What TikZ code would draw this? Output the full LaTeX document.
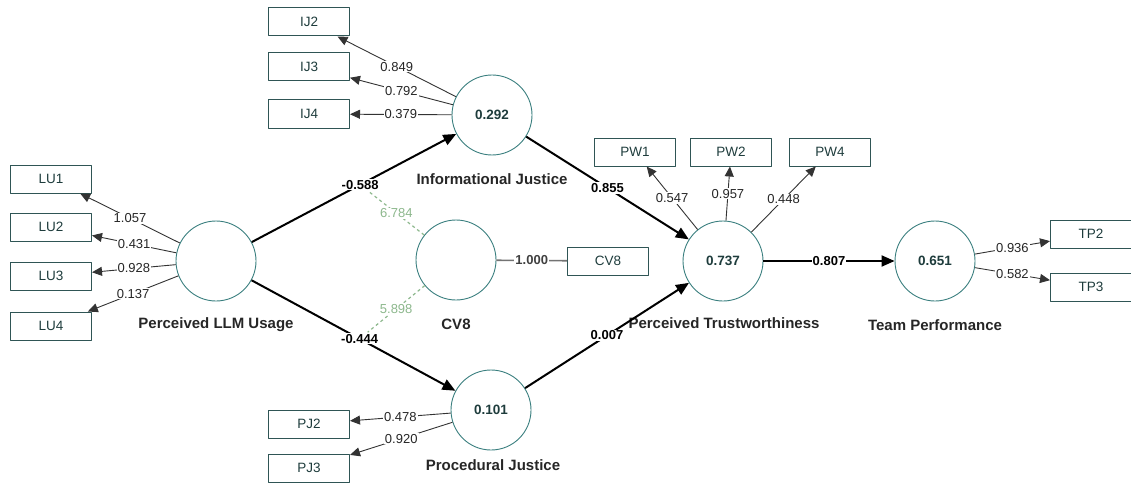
\documentclass[tikz,border=0pt]{standalone}
\usepackage{fontspec}
\setmainfont{Liberation Sans}
\usetikzlibrary{arrows.meta}
\definecolor{circc}{HTML}{3A7F7F}
\definecolor{boxc}{HTML}{2F5555}
\definecolor{txtc}{HTML}{1E3C3C}
\definecolor{modc}{HTML}{8DB88D}
\begin{document}
\begin{tikzpicture}[x=1pt,y=-1pt, line join=round,
	latent/.style={circle,draw=circc,line width=0.9pt,minimum size=80pt,inner sep=0pt,text=txtc,font=\fontsize{13.5}{15}\selectfont\bfseries},
	indic/.style={rectangle,draw=boxc,line width=1pt,minimum width=81pt,minimum height=28pt,inner sep=0pt,text=txtc,font=\fontsize{13.5}{15}\selectfont},
	lvname/.style={font=\fontsize{15}{17}\selectfont\bfseries,text=black!85},
	structarrow/.style={line width=2pt,-{Triangle[length=13pt,width=11pt]}},
	loadarrow/.style={line width=0.9pt,draw=black!80,-{Triangle[length=10pt,width=9pt]}},
	coef/.style={fill=white,inner sep=1pt,font=\fontsize{13}{15}\selectfont\bfseries},
	wt/.style={fill=white,inner sep=1pt,text=black!85,font=\fontsize{13}{15}\selectfont}]
	\useasboundingbox (0,0) rectangle (1131,484);
	% latent variables
	\node[latent] (llm) at (216,261) {};
	\node[latent] (ij) at (492,115) {0.292};
	\node[latent] (cv) at (456,260) {};
	\node[latent] (pt) at (723,261) {0.737};
	\node[latent] (tp) at (935,261) {0.651};
	\node[latent] (pj) at (491,410) {0.101};
	\node[lvname] (llmname) at (216,325) {Perceived LLM Usage};
	\node[lvname] (ijname) at (492,179) {Informational Justice};
	\node[lvname] (cvname) at (456,324) {CV8};
	\node[lvname] (ptname) at (724,323) {Perceived Trustworthiness};
	\node[lvname] (tpname) at (935,325) {Team Performance};
	\node[lvname] (pjname) at (493,465) {Procedural Justice};
	% indicators
	\foreach \n/\y/\w in {1/179/1.057, 2/227/0.431, 3/276/0.928, 4/326/0.137}{
		\node[indic] (lu\n) at (51,\y) {LU\n};
		\draw[loadarrow] (llm) -- (lu\n) node[wt,midway]{\w};
	}
	\foreach \n/\y/\w in {2/22/0.849, 3/67/0.792, 4/114/0.379}{
		\node[indic] (ij\n) at (309,\y) {IJ\n};
		\draw[loadarrow] (ij) -- (ij\n) node[wt,midway]{\w};
	}
	\foreach \n/\y/\w in {2/424/0.478, 3/468/0.920}{
		\node[indic] (pj\n) at (309,\y) {PJ\n};
		\draw[loadarrow] (pj) -- (pj\n) node[wt,midway]{\w};
	}
	\foreach \n/\x/\w in {1/635/0.547, 2/731/0.957, 4/830/0.448}{
		\node[indic] (pw\n) at (\x,152) {PW\n};
		\draw[loadarrow] (pt) -- (pw\n) node[wt,midway]{\w};
	}
	\foreach \n/\y/\w in {2/234/0.936, 3/287/0.582}{
		\node[indic] (tp\n) at (1091,\y) {TP\n};
		\draw[loadarrow] (tp) -- (tp\n) node[wt,midway]{\w};
	}
	\node[indic] (cvbox) at (608,261) {CV8};
	\draw[line width=1.6pt,draw=black!55] (cv) -- (cvbox) node[coef,text=black!75,midway]{1.000};
	% structural paths
	\draw[structarrow] (llm) -- (ij) node[coef,pos=0.53] (b1) {-0.588};
	\draw[structarrow] (llm) -- (pj) node[coef,pos=0.53] (b2) {-0.444};
	\draw[structarrow] (ij) -- (pt) node[coef,midway] (b3) {0.855};
	\draw[structarrow] (pj) -- (pt) node[coef,midway] (b4) {0.007};
	\draw[structarrow] (pt) -- (tp) node[coef,midway] (b5) {0.807};
	% moderating effects
	\draw[modc,dashed,line width=1.2pt] (cv) -- (b1) node[wt,text=modc,midway]{6.784};
	\draw[modc,dashed,line width=1.2pt] (cv) -- (b2) node[wt,text=modc,midway]{5.898};
\end{tikzpicture}
\end{document}
